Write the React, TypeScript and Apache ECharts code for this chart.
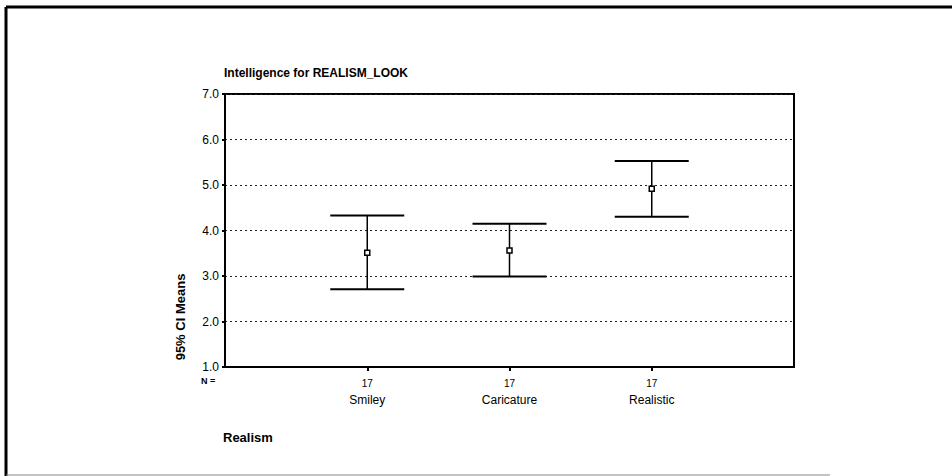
import React, { useEffect, useRef } from "react";
import * as echarts from "echarts";

const categories = ["", "Smiley", "Caricature", "Realistic", ""];
const nCounts = ["", "17", "17", "17", ""];
const means = [3.51, 3.56, 4.92];
const lowerCI = [2.71, 2.99, 4.3];
const upperCI = [4.33, 4.15, 5.53];
const yTicks = [1, 2, 3, 4, 5, 6, 7];

const FONT = "'Liberation Sans', Arial, sans-serif";

export default function App() {
  const ref = useRef<HTMLDivElement>(null);
  useEffect(() => {
    if (!ref.current) return;
    const chart = echarts.init(ref.current, null, { renderer: "svg" });
    const data = means.map((m, i) => [i + 1, lowerCI[i], upperCI[i], m]);
    chart.setOption({
      animation: false,
      backgroundColor: "#fff",
      textStyle: { fontFamily: FONT },
      grid: {
        left: 225,
        right: 158,
        top: 94,
        bottom: 109,
        show: true,
        borderColor: "#000",
        borderWidth: 2,
        backgroundColor: "transparent",
      },
      xAxis: {
        type: "category",
        data: categories,
        boundaryGap: false,
        axisLine: { show: true, lineStyle: { color: "#000", width: 2 } },
        axisTick: {
          show: true,
          length: 4,
          lineStyle: { color: "#000", width: 2 },
          interval: (i: number) => i >= 1 && i <= 3,
        },
        axisLabel: {
          interval: 0,
          margin: 7,
          formatter: (v: string, i: number) =>
            v ? `{n|${nCounts[i]}}\n{c|${v}}` : "",
          rich: {
            n: { fontSize: 10, fontFamily: FONT, color: "#000", height: 18, align: "center" },
            c: { fontSize: 12, fontFamily: FONT, color: "#000", height: 16, align: "center" },
          },
        },
        splitLine: { show: false },
      },
      yAxis: {
        type: "value",
        min: 1,
        max: 7,
        interval: 1,
        axisLine: { show: true, lineStyle: { color: "#000", width: 2 } },
        axisTick: { show: true, length: 3, lineStyle: { color: "#000", width: 2 } },
        axisLabel: {
          margin: 6,
          fontSize: 12,
          color: "#000",
          fontFamily: FONT,
          formatter: (v: number) => (yTicks.includes(v) ? v.toFixed(1) : ""),
        },
        splitLine: {
          show: true,
          lineStyle: { color: "#222", width: 1, type: [2, 3] },
        },
      },
      series: [
        {
          type: "custom",
          data,
          renderItem: (params: any, api: any) => {
            const x = api.value(0);
            const lo = api.coord([x, api.value(1)]);
            const hi = api.coord([x, api.value(2)]);
            const mid = api.coord([x, api.value(3)]);
            const hw = 37;
            const style = { stroke: "#000", lineWidth: 1.5 };
            return {
              type: "group",
              children: [
                { type: "line", shape: { x1: hi[0], y1: hi[1], x2: lo[0], y2: lo[1] }, style },
                { type: "line", shape: { x1: hi[0] - hw, y1: hi[1], x2: hi[0] + hw, y2: hi[1] }, style: { stroke: "#000", lineWidth: 2 } },
                { type: "line", shape: { x1: lo[0] - hw, y1: lo[1], x2: lo[0] + hw, y2: lo[1] }, style: { stroke: "#000", lineWidth: 2 } },
                {
                  type: "rect",
                  shape: { x: mid[0] - 2.5, y: mid[1] - 2.5, width: 5, height: 5 },
                  style: { fill: "#fff", stroke: "#000", lineWidth: 1.5 },
                },
              ],
            };
          },
        },
      ],
      graphic: [
        { type: "line", shape: { x1: 6, y1: 7, x2: 952, y2: 7 }, style: { stroke: "#000", lineWidth: 3 } },
        { type: "line", shape: { x1: 6, y1: 7, x2: 6, y2: 476 }, style: { stroke: "#000", lineWidth: 3 } },
        { type: "line", shape: { x1: 6, y1: 475, x2: 830, y2: 475 }, style: { stroke: "#888", lineWidth: 1 } },
        {
          type: "text",
          left: 224,
          top: 67,
          style: { text: "Intelligence for REALISM_LOOK", font: `bold 12px ${FONT}`, fill: "#000" },
        },
        {
          type: "text",
          x: 180,
          y: 317,
          rotation: Math.PI / 2,
          style: {
            text: "95% CI Means",
            font: `bold 13px ${FONT}`,
            fill: "#000",
            align: "center",
            verticalAlign: "middle",
          },
        },
        {
          type: "text",
          x: 201,
          y: 381,
          style: { text: "N =", font: `bold 9px ${FONT}`, fill: "#000", verticalAlign: "middle" },
        },
        {
          type: "text",
          x: 223,
          y: 437,
          style: { text: "Realism", font: `bold 13px ${FONT}`, fill: "#000", verticalAlign: "middle" },
        },
      ],
    });
    return () => chart.dispose();
  }, []);
  return (
    <div
      ref={ref}
      style={{ position: "fixed", left: 0, top: 0, width: 952, height: 476, background: "#fff" }}
    />
  );
}
